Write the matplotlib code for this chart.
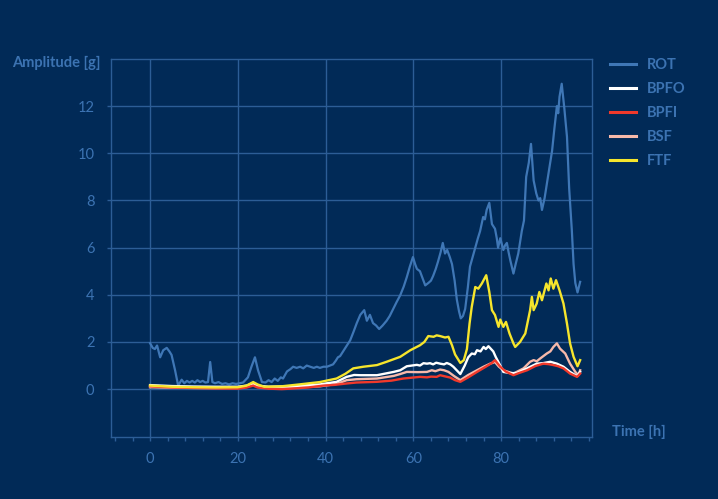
import matplotlib
matplotlib.use("Agg")
import matplotlib.pyplot as plt
from matplotlib.ticker import MultipleLocator

# ---------------- data ----------------
rot_x = [0, 0.6, 1.1, 1.6, 2.3, 3.0, 3.8, 4.4, 4.9, 5.7, 6.4, 7.2, 7.8, 8.4, 9.0, 9.6, 10.2, 10.8,
         11.4, 12.0, 12.6, 13.2, 13.7, 14.2, 14.8, 15.6, 16.4, 17.2, 18.0, 18.8, 19.6, 20.4, 21.2,
         22.3, 23.1, 23.9, 24.6, 25.5, 26.3, 27.0, 27.7, 28.4, 29.1, 29.8, 30.3, 31.2, 32.0, 32.6,
         33.4, 34.2, 34.9, 35.7, 36.5, 37.3, 38.0, 38.7, 39.5, 40.3, 41.0, 41.7, 42.3, 42.8, 43.3,
         44.5, 45.6, 46.4, 47.1, 47.9, 48.8, 49.4, 50.1, 50.8, 51.5, 52.2, 53.0, 53.9, 54.6, 55.4,
         56.2, 57.0, 57.8, 58.5, 59.2, 59.9, 60.4, 60.8, 61.5, 61.9, 62.7, 63.4, 64.0, 64.5, 65.1,
         65.6, 66.2, 66.7, 67.2, 67.7, 68.3, 68.8, 69.4, 69.9, 70.4, 70.8, 71.3, 71.8, 72.4, 72.9,
         73.5, 74.1, 74.7, 75.2, 75.9, 76.3, 76.7, 77.3, 77.9, 78.6, 79.0, 79.3, 79.8, 80.5, 80.9,
         81.3, 81.7, 82.1, 82.8, 83.3, 83.9, 84.7, 85.2, 85.7, 86.3, 86.8, 87.4, 88.0, 88.5, 88.9,
         89.3, 89.9, 90.4, 91.0, 91.6, 92.1, 92.7, 93.0, 93.3, 93.8, 94.4, 95.0, 95.5, 96.1, 96.5,
         96.9, 97.4, 98.0]
rot_y = [1.95, 1.75, 1.7, 1.85, 1.35, 1.65, 1.75, 1.6, 1.45, 0.8, 0.15, 0.4, 0.25, 0.35, 0.28, 0.35,
         0.28, 0.38, 0.3, 0.35, 0.28, 0.3, 1.15, 0.3, 0.25, 0.3, 0.22, 0.25, 0.2, 0.25, 0.22, 0.25,
         0.28, 0.5, 0.95, 1.35, 0.8, 0.3, 0.28, 0.38, 0.3, 0.45, 0.35, 0.5, 0.45, 0.75, 0.85, 0.95,
         0.9, 0.95, 0.88, 1.0, 0.95, 0.9, 0.95, 0.9, 0.95, 0.95, 1.0, 1.05, 1.2, 1.35, 1.4, 1.75,
         2.07, 2.45, 2.8, 3.15, 3.35, 2.9, 3.15, 2.8, 2.7, 2.55, 2.7, 2.9, 3.1, 3.4, 3.7, 3.98,
         4.35, 4.75, 5.2, 5.6, 5.3, 5.1, 5.0, 4.8, 4.4, 4.5, 4.6, 4.8, 5.1, 5.4, 5.8, 6.2, 5.75,
         5.9, 5.6, 5.3, 4.6, 3.8, 3.3, 3.0, 3.1, 3.4, 4.3, 5.2, 5.6, 6.0, 6.4, 6.7, 7.3, 7.2, 7.6,
         7.9, 7.0, 6.8, 6.4, 6.0, 6.4, 5.9, 6.1, 6.2, 5.8, 5.45, 4.9, 5.3, 5.75, 6.7, 7.15, 9.0,
         9.6, 10.4, 8.85, 8.3, 8.0, 8.1, 7.6, 8.1, 8.7, 9.4, 10.1, 11.0, 12.0, 11.7, 12.4, 12.95,
         11.9, 10.7, 8.5, 6.75, 5.3, 4.5, 4.1, 4.55]

bpfo_x = [0, 5, 10, 15, 20, 22, 23.5, 24.5, 27, 32, 36, 38.7, 42.5, 44.8, 46.5, 47.9, 51.7, 55.5,
          57, 58.5, 60.8, 61.5, 62.3, 63.1, 63.8, 64.5, 65.2, 66.1, 67.0, 67.6, 68.4, 69.1, 70.7,
          71.7, 72.5, 73.3, 74.0, 74.5, 75.3, 76.0, 76.5, 77.1, 78.2, 78.8, 79.8, 80.5, 82.1, 83.6,
          85.9, 88.1, 89.5, 91.2, 92.7, 94.2, 95.7, 97.3, 98.0]
bpfo_y = [0.17, 0.13, 0.11, 0.1, 0.1, 0.15, 0.25, 0.15, 0.1, 0.12, 0.17, 0.2, 0.31, 0.52, 0.6,
          0.59, 0.59, 0.73, 0.8, 0.97, 1.03, 1.0, 1.1, 1.08, 1.1, 1.05, 1.12, 1.08, 1.05, 1.11,
          1.05, 0.95, 0.64, 1.0, 1.35, 1.51, 1.48, 1.65, 1.6, 1.79, 1.7, 1.82, 1.6, 1.35, 1.0,
          0.73, 0.68, 0.68, 0.88, 1.08, 1.1, 1.16, 1.08, 0.95, 0.73, 0.55, 0.73]

bpfi_x = [0, 5, 10, 15, 20, 22, 23.5, 24.5, 27, 30, 32, 36, 39.5, 42, 44.8, 47, 51.7, 55, 57.7,
          61.5, 63.1, 64, 65.3, 66.1, 67.0, 68.4, 69.5, 70.7, 72.5, 74.5, 76.5, 77.8, 78.6, 79.8,
          81, 82.8, 84, 85.9, 87.8, 89.6, 90.8, 91.9, 93, 94.2, 95.7, 97.3, 98]
bpfi_y = [0.12, 0.07, 0.05, 0.03, 0.02, 0.07, 0.15, 0.07, 0.02, 0.0, 0.02, 0.07, 0.15, 0.18, 0.24,
          0.28, 0.31, 0.36, 0.45, 0.52, 0.5, 0.53, 0.52, 0.59, 0.55, 0.49, 0.38, 0.31, 0.5, 0.73,
          0.95, 1.1, 1.23, 0.95, 0.75, 0.59, 0.68, 0.8, 0.98, 1.08, 1.06, 1.02, 0.97, 0.88, 0.66,
          0.52, 0.66]

bsf_x = [0, 5, 10, 15, 20, 22, 23.5, 24.5, 27, 32, 38.7, 42.5, 44.8, 47, 51.7, 55.5, 57, 58.5, 61,
         63.1, 64.2, 65.0, 66.1, 67.0, 68, 69.3, 70.7, 72.5, 74.5, 76.0, 77.5, 78.6, 79.5, 80.5,
         82.8, 85.1, 86.6, 87.4, 88.1, 88.9, 90.4, 91.2, 91.9, 92.7, 93.4, 94.6, 95.7, 96.9, 97.6,
         98.0]
bsf_y = [0.08, 0.06, 0.05, 0.04, 0.05, 0.1, 0.2, 0.1, 0.05, 0.07, 0.12, 0.22, 0.38, 0.42, 0.45,
         0.56, 0.64, 0.73, 0.72, 0.73, 0.8, 0.76, 0.83, 0.8, 0.73, 0.55, 0.38, 0.6, 0.8, 0.95,
         1.08, 1.15, 0.95, 0.8, 0.66, 0.88, 1.16, 1.23, 1.18, 1.3, 1.51, 1.6, 1.79, 1.94, 1.72,
         1.51, 1.08, 0.73, 0.59, 0.8]

ftf_x = [0, 2, 5, 10, 15, 20, 22, 23.5, 24.5, 26, 30, 34, 38.7, 42.5, 44.5, 46.3, 48.6, 51.7, 53.9,
         57, 59.3, 61.5, 62.5, 63.4, 64.6, 65.3, 66.1, 67.2, 68, 68.8, 69.5, 70.7, 71.5, 72.2, 72.8,
         73.3, 74.1, 74.8, 75.6, 76.6, 77.3, 77.9, 78.6, 79.4, 79.8, 80.5, 81.1, 81.9, 82.8, 83.2,
         84.3, 85.5, 86.6, 87.0, 87.4, 88.1, 88.7, 89.3, 90.3, 90.8, 91.3, 91.9, 92.5, 93.3, 94.2,
         95.0, 95.7, 96.5, 97.4, 98.0]
ftf_y = [0.15, 0.13, 0.1, 0.08, 0.07, 0.08, 0.15, 0.3, 0.2, 0.1, 0.12, 0.2, 0.3, 0.45, 0.65, 0.88,
         0.95, 1.02, 1.16, 1.37, 1.65, 1.86, 2.0, 2.25, 2.22, 2.28, 2.25, 2.19, 2.22, 1.86, 1.47,
         1.11, 1.23, 1.7, 2.78, 3.49, 4.33, 4.26, 4.48, 4.83, 4.12, 3.35, 3.14, 2.64, 2.95, 2.64,
         2.85, 2.36, 1.94, 1.79, 2.0, 2.36, 3.35, 3.91, 3.35, 3.63, 4.12, 3.77, 4.48, 4.19, 4.69,
         4.26, 4.62, 4.19, 3.63, 2.78, 1.94, 1.37, 0.97, 1.23]

series_names = ["ROT", "BPFO", "BPFI", "BSF", "FTF"]
x_ticks = [0, 20, 40, 60, 80]
y_ticks = [0, 2, 4, 6, 8, 10, 12]

# ---------------- style ----------------
BG = "#012a57"
GRID = "#2c5d96"
TXT = "#3c73b2"
colors = {"ROT": "#3f77b6", "BPFO": "#ffffff", "BPFI": "#f0392b", "BSF": "#f7b9aa", "FTF": "#f6e52c"}
widths = {"ROT": 1.6, "BPFO": 1.7, "BPFI": 1.7, "BSF": 1.7, "FTF": 1.7}

plt.rcParams["font.family"] = ["Lato", "DejaVu Sans"]

fig = plt.figure(figsize=(7.18, 4.99), dpi=100, facecolor=BG)
ax = fig.add_axes([111 / 718, 1 - 437 / 499, (592 - 111) / 718, (437 - 59) / 499])
ax.set_facecolor(BG)

data = {"ROT": (rot_x, rot_y), "BPFO": (bpfo_x, bpfo_y), "BPFI": (bpfi_x, bpfi_y),
        "BSF": (bsf_x, bsf_y), "FTF": (ftf_x, ftf_y)}
order = ["ROT", "BSF", "BPFO", "BPFI", "FTF"]
handles = {}
for name in order:
    xs, ys = data[name]
    (ln,) = ax.plot(xs, ys, color=colors[name], lw=widths[name], solid_joinstyle="round",
                    label=name, zorder=3)
    handles[name] = ln

ax.set_xlim(-8.9, 100.7)
ax.set_ylim(-2.03, 14.0)
ax.set_xticks(x_ticks)
ax.set_yticks(y_ticks)
ax.xaxis.set_minor_locator(MultipleLocator(4))
ax.grid(True, which="major", color=GRID, lw=1.0, zorder=1)
for s in ax.spines.values():
    s.set_color(GRID)
    s.set_linewidth(1.0)
ax.tick_params(axis="both", which="both", colors=GRID, labelcolor=TXT, labelsize=10.5,
               length=3, width=1.0)
ax.tick_params(axis="y", pad=9)
ax.tick_params(axis="x", pad=8)

fig.text(12 / 718, 1 - 63 / 499, "Amplitude [g]", color=TXT, fontsize=10.5, fontweight="bold",
         va="center", ha="left")
fig.text(612 / 718, 1 - 432 / 499, "Time [h]", color=TXT, fontsize=10.5, fontweight="bold",
         va="center", ha="left")

leg = fig.legend([handles[n] for n in series_names], series_names, loc="upper left",
                 bbox_to_anchor=(610 / 718, 1 - 58 / 499), frameon=False, fontsize=10.5,
                 handlelength=1.75, handletextpad=0.75, labelspacing=0.68, borderpad=0,
                 borderaxespad=0)
for t in leg.get_texts():
    t.set_color(TXT)
    t.set_fontweight("bold")
for l in leg.get_lines():
    l.set_linewidth(2.2)

fig.savefig("out.png", dpi=100, facecolor=BG)
